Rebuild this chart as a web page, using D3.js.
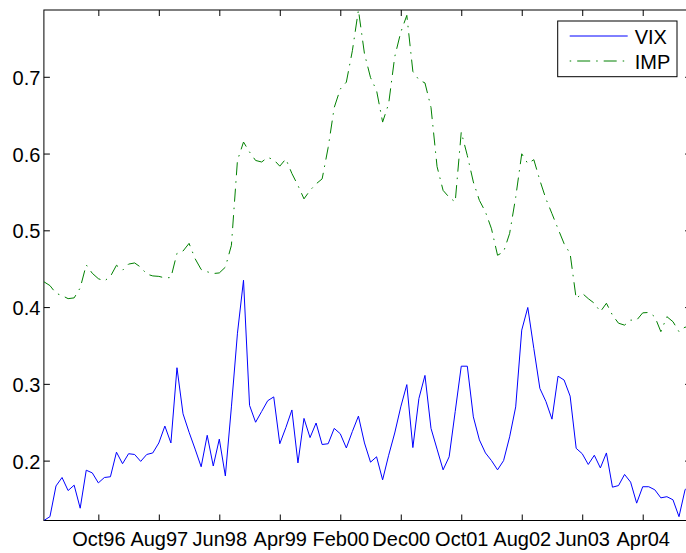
<!DOCTYPE html>
<html>
<head>
<meta charset="utf-8">
<script src="https://cdn.jsdelivr.net/npm/d3@7"></script>
<style>
    body { margin: 0; background: #fff; }
    svg { display: block; font-family: "Liberation Sans", Arial, sans-serif; }
    .axis text { font-size: 20px; fill: #000; }
    .axis line { stroke: #000; }
</style>
</head>
<body>
<div id="chart"></div>
<script>

// monthly series, Jan96 .. Dec04 (index 1..108)
var vix = [
    0.122, 0.127, 0.167, 0.178, 0.161, 0.168, 0.138, 0.1875, 0.184, 0.171,
    0.178, 0.179, 0.211, 0.196, 0.209, 0.208, 0.199, 0.208, 0.21, 0.223,
    0.245, 0.223, 0.321, 0.261, 0.237, 0.215, 0.192, 0.233, 0.193, 0.228,
    0.18, 0.27, 0.366, 0.435, 0.272, 0.25, 0.264, 0.278, 0.283, 0.222,
    0.243, 0.266, 0.197, 0.255, 0.23, 0.249, 0.221, 0.222, 0.242, 0.235,
    0.2165, 0.238, 0.258, 0.223, 0.198, 0.205, 0.175, 0.207, 0.236, 0.27,
    0.299, 0.217, 0.281, 0.311, 0.242, 0.215, 0.188, 0.205, 0.264, 0.323,
    0.323, 0.257, 0.227, 0.21, 0.2, 0.188, 0.2, 0.231, 0.27, 0.37,
    0.3995, 0.346, 0.294, 0.277, 0.254, 0.31, 0.305, 0.284, 0.216, 0.209,
    0.195, 0.207, 0.1905, 0.21, 0.1654, 0.1675, 0.182, 0.172, 0.1446, 0.166,
    0.166, 0.162, 0.1515, 0.153, 0.149, 0.127, 0.162, 0.17
];

var imp = [
    0.433, 0.428, 0.418, 0.415, 0.411, 0.412, 0.425, 0.455, 0.444, 0.437,
    0.434, 0.44, 0.4545, 0.448, 0.456, 0.4575, 0.452, 0.443, 0.4406, 0.44,
    0.438, 0.4385, 0.47, 0.473, 0.483, 0.463, 0.449, 0.446, 0.4437, 0.4445,
    0.452, 0.4805, 0.591, 0.615, 0.602, 0.591, 0.589, 0.595, 0.592, 0.5836,
    0.593, 0.574, 0.5585, 0.541, 0.552, 0.5605, 0.567, 0.608, 0.66, 0.684,
    0.693, 0.734, 0.787, 0.73, 0.699, 0.682, 0.641, 0.665, 0.726, 0.758,
    0.78, 0.707, 0.696, 0.692, 0.66, 0.583, 0.552, 0.543, 0.537, 0.628,
    0.5975, 0.563, 0.539, 0.524, 0.502, 0.4675, 0.472, 0.496, 0.543, 0.5997,
    0.587, 0.592, 0.565, 0.541, 0.5217, 0.502, 0.4827, 0.4697, 0.411, 0.418,
    0.411, 0.405, 0.394, 0.405, 0.3895, 0.379, 0.3765, 0.383, 0.383, 0.3925,
    0.393, 0.3875, 0.368, 0.3875, 0.381, 0.368, 0.374, 0.372
];

var xTickIdx = [10, 20, 30, 40, 50, 60, 70, 80, 90, 100];
var xTickLabels = ["Oct96", "Aug97", "Jun98", "Apr99", "Feb00", "Dec00", "Oct01", "Aug02", "Jun03", "Apr04"];
var yTicks = [0.2, 0.3, 0.4, 0.5, 0.6, 0.7];
var seriesNames = ["VIX", "IMP"];

var width = 686, height = 553;
var margin = {top: 10, left: 43.9, bottom: 32.5};
var plotRight = 691.1;   // axes box runs a little past the window edge

var svg = d3.select("#chart").append("svg")
    .attr("width", width)
    .attr("height", height);

var x = d3.scaleLinear()
    .domain([1, vix.length])
    .range([margin.left, plotRight]);

// axis tight: limits are the extent of both series
var y = d3.scaleLinear()
    .domain(d3.extent(vix.concat(imp)))
    .range([height - margin.bottom, margin.top]);

var plotBottom = height - margin.bottom;

// frame
svg.append("rect")
    .attr("x", margin.left)
    .attr("y", margin.top)
    .attr("width", plotRight - margin.left)
    .attr("height", plotBottom - margin.top)
    .attr("fill", "#fff")
    .attr("stroke", "#000")
    .attr("stroke-width", 1);

var clip = svg.append("clipPath").attr("id", "clip")
    .append("rect")
    .attr("x", margin.left)
    .attr("y", margin.top)
    .attr("width", plotRight - margin.left)
    .attr("height", plotBottom - margin.top);

var line = d3.line()
    .x(function(d, i) { return x(i + 1); })
    .y(function(d) { return y(d); });

var plot = svg.append("g").attr("clip-path", "url(#clip)");

plot.append("path")
    .datum(imp)
    .attr("d", line)
    .attr("fill", "none")
    .attr("stroke", "#008000")
    .attr("stroke-width", 1)
    .attr("stroke-dasharray", "13,6,1.5,6");

plot.append("path")
    .datum(vix)
    .attr("d", line)
    .attr("fill", "none")
    .attr("stroke", "#0000ff")
    .attr("stroke-width", 1);

// axes, ticks pointing inward on all four sides
var xBottom = d3.axisBottom(x)
    .tickValues(xTickIdx)
    .tickFormat(function(d, i) { return xTickLabels[i]; })
    .tickSizeInner(-6).tickSizeOuter(0).tickPadding(11.3);

var gxb = svg.append("g").attr("class", "axis")
    .attr("transform", "translate(0," + plotBottom + ")")
    .call(xBottom);

svg.append("g").attr("class", "axis")
    .attr("transform", "translate(0," + margin.top + ")")
    .call(d3.axisTop(x).tickValues(xTickIdx).tickFormat("")
        .tickSizeInner(-6).tickSizeOuter(0));

var gyl = svg.append("g").attr("class", "axis")
    .attr("transform", "translate(" + margin.left + ",0)")
    .call(d3.axisLeft(y).tickValues(yTicks).tickFormat(d3.format(".1f"))
        .tickSizeInner(-6).tickSizeOuter(0).tickPadding(3.5));
gyl.selectAll("text").attr("dy", "0.38em");

svg.append("g").attr("class", "axis")
    .attr("transform", "translate(" + plotRight + ",0)")
    .call(d3.axisRight(y).tickValues(yTicks).tickFormat("")
        .tickSizeInner(-6).tickSizeOuter(0));

svg.selectAll(".axis .domain").remove();
gxb.selectAll("text").attr("dy", null).attr("dominant-baseline", null)
    .attr("y", 25.5);

// legend
var legend = svg.append("g").attr("transform", "translate(557.7,21)");
legend.append("rect")
    .attr("width", 119.3)
    .attr("height", 55.7)
    .attr("fill", "#fff")
    .attr("stroke", "#000")
    .attr("stroke-width", 1);

var legendStyles = [
    {color: "#0000ff", dash: null},
    {color: "#008000", dash: "1.5,6,13,6"}
];

seriesNames.forEach(function(name, i) {
    var ly = 15 + i * 25;
    legend.append("line")
        .attr("x1", 12).attr("x2", 70)
        .attr("y1", ly).attr("y2", ly)
        .attr("stroke", legendStyles[i].color)
        .attr("stroke-width", 1)
        .attr("stroke-dasharray", legendStyles[i].dash);
    legend.append("text")
        .attr("x", 77)
        .attr("y", ly + 8.3)
        .attr("font-size", 20)
        .text(name);
});

</script>
</body>
</html>
